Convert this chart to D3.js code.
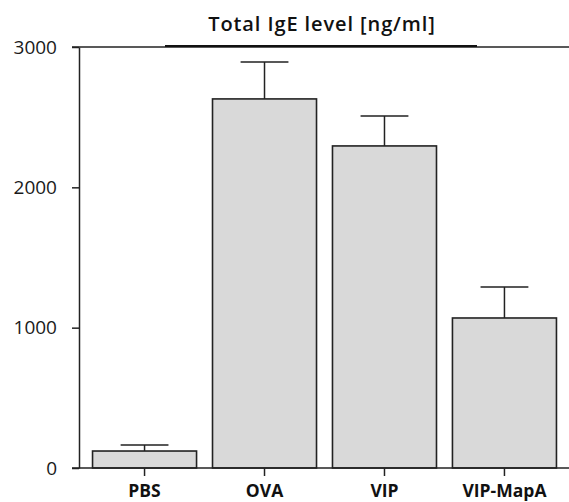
<!DOCTYPE html>
<html>
<head>
<meta charset="utf-8">
<script src="https://cdn.jsdelivr.net/npm/d3@7"></script>
<style>
  body { margin: 0; background: #fff; }
  svg { display: block; }
</style>
</head>
<body>
<div id="chart"></div>
<script>
const groups = ["PBS", "OVA", "VIP", "VIP-MapA"];
const means = [121, 2630, 2295, 1069];
const errors = [43, 264, 214, 221];
const yTicks = [0, 1000, 2000, 3000];
const title = "Total IgE level [ng/ml]";

const width = 569, height = 502;
const svg = d3.select("#chart").append("svg")
  .attr("width", width).attr("height", height);

const x = d3.scaleBand()
  .domain(groups)
  .range([84.5, 564.5])
  .paddingInner(0.133)
  .paddingOuter(0.067);

const y = d3.scaleLinear().domain([0, 3000]).range([468, 47]);

const font = "'Open Sans', 'Noto Sans', sans-serif";
const ink = "#222";

// bars
svg.selectAll(".bar")
  .data(groups).enter()
  .append("rect")
  .attr("class", "bar")
  .attr("x", (d) => x(d))
  .attr("width", x.bandwidth())
  .attr("y", (d, i) => y(means[i]))
  .attr("height", (d, i) => y(0) - y(means[i]))
  .style("fill", "#d9d9d9")
  .style("stroke", ink)
  .style("stroke-width", 1.6);

// error bars (upper only)
const cx = (d) => x(d) + x.bandwidth() / 2;
const capHalf = x.bandwidth() * 0.23;
svg.selectAll(".err")
  .data(groups).enter()
  .append("path")
  .attr("class", "err")
  .attr("d", (d, i) => {
    const top = y(means[i] + errors[i]);
    return `M${cx(d)},${y(means[i])}V${top}M${cx(d) - capHalf},${top}H${cx(d) + capHalf}`;
  })
  .style("fill", "none")
  .style("stroke", ink)
  .style("stroke-width", 1.5);

// y axis
const yAxis = svg.append("g")
  .attr("transform", "translate(79,0)")
  .call(d3.axisLeft(y).tickValues(yTicks).tickSize(7).tickSizeOuter(0).tickFormat(d3.format("d")));
yAxis.select(".domain").style("stroke", ink).style("stroke-width", 1.5);
yAxis.selectAll(".tick line").style("stroke", ink).style("stroke-width", 1.5);
yAxis.selectAll(".tick text")
  .attr("x", -22)
  .style("font-family", font).style("font-size", "19px").style("fill", "#1a1a1a");

// top frame line at 3000
svg.append("line")
  .attr("x1", 72).attr("x2", width)
  .attr("y1", y(3000)).attr("y2", y(3000))
  .style("stroke", ink).style("stroke-width", 1.3);

// x axis
const xAxis = svg.append("g")
  .attr("transform", `translate(0,${y(0)})`)
  .call(d3.axisBottom(x).tickSize(8).tickSizeOuter(0));
xAxis.select(".domain").attr("d", `M72,0H${width}`).style("stroke", ink).style("stroke-width", 1.5);
xAxis.selectAll(".tick line").style("stroke", ink).style("stroke-width", 1.5);
xAxis.selectAll(".tick text")
  .attr("y", 17)
  .style("font-family", font).style("font-size", "17.5px")
  .style("font-weight", "bold").style("fill", "#111");

// title
svg.append("text")
  .attr("x", 322).attr("y", 31)
  .attr("text-anchor", "middle")
  .style("font-family", font).style("font-size", "20px")
  .style("font-weight", 600).style("letter-spacing", "0.9px")
  .style("fill", "#111")
  .text(title);
svg.append("line")
  .attr("x1", 165).attr("x2", 477)
  .attr("y1", 46).attr("y2", 46)
  .style("stroke", "#111").style("stroke-width", 2);
</script>
</body>
</html>
